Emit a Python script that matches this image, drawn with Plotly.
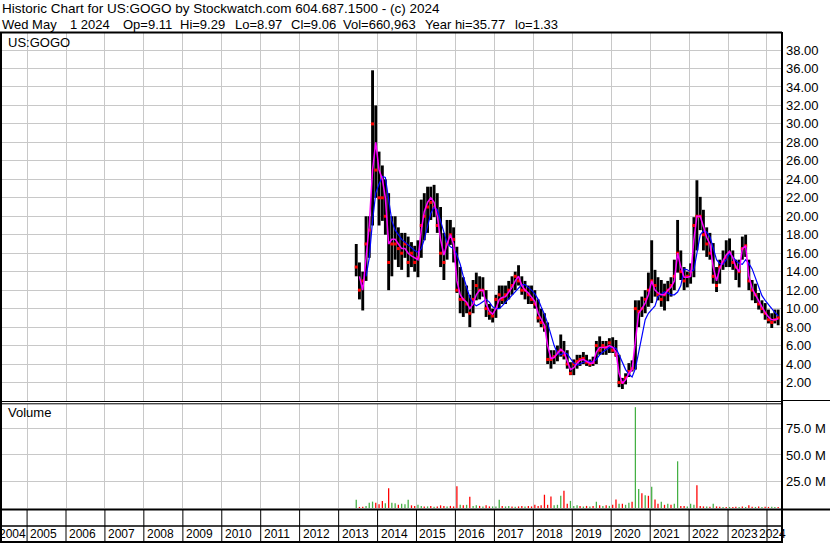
import plotly.graph_objects as go
import pandas as pd

# ---------------- data (monthly, Jun 2013 .. Apr 2024) ----------------
months = pd.date_range("2013-06-01", "2024-04-01", freq="MS") + pd.Timedelta(days=14)

high = [
    17.0, 15.0, 14.0, 20.0, 20.0, 35.8, 32.0,
    27.0, 25.5, 24.0, 22.5, 20.0, 20.0, 18.8, 18.2, 18.2, 17.8, 17.2, 16.8,
    17.4, 21.8, 22.5, 23.2, 23.2, 23.4, 22.5, 21.0, 18.2, 19.6, 19.6, 18.8,
    16.7, 14.5, 13.4, 12.5, 11.5, 13.1, 13.9, 13.5, 13.4, 12.0, 10.5, 10.0,
    11.5, 12.5, 12.5, 12.5, 13.0, 13.5, 14.0, 14.7, 13.5, 13.0, 12.5, 12.5,
    12.0, 11.0, 10.0, 9.5, 8.5, 5.5, 5.5, 6.0, 7.2, 6.5, 5.5, 4.2,
    4.5, 5.0, 5.0, 5.3, 5.0, 4.5, 4.8, 6.5, 7.0, 6.5, 6.5, 6.8,
    6.9, 6.6, 5.0, 2.5, 3.0, 4.1, 4.4, 10.9, 10.9, 11.3, 12.0, 13.9,
    17.4, 14.2, 13.4, 13.1, 12.7, 13.0, 13.4, 15.3, 19.6, 16.3, 14.5, 14.0,
    14.9, 19.9, 23.9, 22.1, 20.7, 18.8, 18.2, 17.1, 14.5, 15.3, 16.3, 17.4,
    17.6, 16.3, 15.3, 15.3, 17.8, 18.0, 15.3, 13.1, 12.7, 11.7, 10.9, 10.6,
    9.9, 9.5, 9.9, 9.9,
]
low = [
    13.5, 11.0, 9.8, 13.0, 15.5, 19.0, 22.0,
    19.0, 19.5, 18.0, 12.0, 13.5, 15.3, 14.5, 14.2, 15.5, 13.4, 14.5, 14.0,
    13.4, 15.5, 17.4, 18.2, 19.6, 19.9, 18.2, 14.5, 13.1, 15.3, 16.9, 15.0,
    11.7, 9.5, 9.1, 9.5, 8.0, 9.5, 10.9, 11.0, 11.3, 9.1, 8.8, 8.5,
    9.0, 10.0, 10.5, 10.5, 11.0, 11.5, 12.0, 12.5, 11.5, 11.0, 10.5, 10.5,
    10.0, 8.5, 8.0, 7.5, 4.0, 3.5, 4.0, 4.3, 4.8, 4.5, 3.5, 2.8,
    2.8, 3.5, 3.8, 4.0, 3.8, 3.7, 3.8, 4.0, 5.0, 5.0, 5.0, 5.2,
    5.2, 4.8, 1.5, 1.3, 1.8, 2.6, 3.2, 3.4, 8.0, 9.1, 9.5, 10.2,
    10.6, 11.3, 10.9, 10.2, 9.8, 10.8, 11.3, 12.0, 13.9, 13.1, 12.0, 12.3,
    12.7, 13.4, 16.3, 18.5, 16.3, 15.6, 15.3, 12.7, 11.8, 12.7, 14.2, 14.5,
    14.5, 14.2, 13.1, 12.3, 15.3, 15.6, 12.0, 10.9, 10.6, 9.9, 9.5, 8.8,
    8.4, 7.9, 8.4, 8.2,
]
close = [
    14.5, 12.0, 13.0, 17.0, 18.5, 30.0, 25.0,
    22.0, 22.0, 20.0, 15.0, 17.0, 17.0, 16.5, 16.0, 17.0, 15.0, 16.0, 15.0,
    15.5, 19.0, 20.0, 21.0, 21.5, 21.0, 19.0, 16.0, 15.0, 17.0, 18.0, 17.5,
    12.0, 11.0, 11.0, 10.5, 9.5, 11.0, 12.5, 12.0, 12.0, 10.0, 9.5, 9.2,
    11.0, 11.5, 11.0, 11.5, 12.0, 12.5, 13.5, 13.0, 12.0, 12.0, 11.5, 11.0,
    10.5, 9.0, 8.5, 8.0, 4.5, 4.5, 4.8, 5.3, 5.5, 5.0, 4.0, 3.0,
    4.0, 4.3, 4.5, 4.6, 4.2, 4.0, 4.2, 6.0, 5.5, 6.0, 5.8, 6.3,
    5.5, 5.0, 2.0, 2.0, 2.5, 3.2, 3.5, 10.0, 9.7, 10.0, 11.0, 12.0,
    13.0, 12.5, 11.5, 11.0, 11.5, 12.0, 12.5, 13.5, 16.0, 14.0, 13.0, 13.5,
    14.0, 19.0, 20.0, 20.0, 18.0, 17.0, 16.0, 13.5, 12.5, 14.5, 15.0, 15.5,
    16.0, 15.0, 14.5, 14.0, 16.5, 16.8, 13.0, 12.0, 11.5, 10.5, 10.0, 9.5,
    8.8, 8.5, 8.8, 9.0,
]
ma_short = [
    None, 13.5, 12.0, 15.5, 19.0, 25.0, 28.0,
    25.0, 24.0, 22.0, 17.0, 17.5, 17.5, 17.0, 16.5, 16.5, 16.0, 15.7, 15.5,
    15.3, 18.5, 20.5, 21.5, 22.0, 21.5, 20.0, 17.5, 15.8, 17.0, 18.0, 17.0,
    13.0, 11.5, 11.0, 10.7, 10.0, 10.5, 11.5, 12.0, 12.0, 10.5, 9.7, 9.4,
    10.0, 11.0, 11.2, 11.3, 11.8, 12.3, 13.0, 13.5, 12.5, 12.0, 11.7, 11.2,
    10.8, 9.5, 8.8, 8.2, 6.0, 4.6, 4.7, 5.1, 5.6, 5.3, 4.4, 3.4,
    3.6, 4.1, 4.4, 4.5, 4.3, 4.1, 4.1, 5.3, 5.8, 5.8, 5.8, 6.0,
    5.8, 5.3, 3.0, 1.9, 2.3, 3.0, 3.4, 6.5, 9.5, 10.0, 10.6, 11.5,
    13.0, 12.0, 11.7, 11.5, 11.5, 12.0, 12.3, 13.0, 16.0, 14.5, 13.4, 13.4,
    13.5, 17.5, 20.0, 20.0, 18.8, 17.7, 17.0, 14.5, 13.0, 14.3, 15.2, 15.8,
    16.2, 15.5, 14.5, 14.0, 16.5, 16.8, 13.5, 12.2, 11.5, 10.8, 10.2, 9.6,
    9.1, 8.8, 8.8, 8.9,
]
ma_long = [
    None, None, None, 13.5, 15.5, 19.5, 22.5,
    23.5, 24.3, 24.2, 21.5, 19.5, 18.5, 18.0, 17.5, 17.2, 16.9, 16.6, 16.3,
    16.1, 16.5, 17.5, 19.0, 20.3, 21.0, 20.7, 19.5, 18.3, 17.1, 16.7, 16.5,
    15.8, 14.8, 13.5, 12.2, 11.2, 10.6, 10.3, 10.5, 10.8, 11.0, 10.7, 10.2,
    10.0, 10.0, 10.3, 10.7, 11.0, 11.4, 11.8, 12.3, 12.6, 12.6, 12.3, 12.0,
    11.6, 11.0, 10.2, 9.4, 8.4, 7.2, 6.0, 5.2, 5.0, 5.2, 5.1, 4.6,
    4.1, 3.9, 4.0, 4.2, 4.3, 4.3, 4.2, 4.5, 5.0, 5.3, 5.6, 5.8,
    5.8, 5.7, 5.0, 4.2, 3.4, 2.9, 2.6, 3.5, 5.5, 7.0, 8.8, 9.5,
    9.9, 10.3, 11.3, 11.6, 11.8, 11.7, 11.5, 11.5, 11.8, 12.5, 14.3, 14.2,
    14.0, 14.2, 16.2, 18.0, 18.4, 18.3, 17.8, 16.5, 15.3, 14.9, 14.8, 15.3,
    16.0, 15.6, 15.2, 14.9, 14.8, 15.3, 14.9, 14.3, 13.3, 12.2, 11.4, 10.9,
    10.5, 10.0, 9.6, 9.2,
]
volume_m = [
    7.7, 1.0, 1.2, 2.0, 5.0, 6.0, 5.0,
    3.5, 6.7, 4.5, 18.6, 5.0, 4.5, 3.0, 4.0, 3.5, 7.7, 2.5, 2.0,
    3.0, 2.0, 1.5, 1.5, 2.0, 1.2, 1.5, 2.5, 2.0, 1.5, 2.0, 1.5,
    20.5, 3.0, 2.5, 3.0, 10.6, 2.0, 2.5, 2.0, 1.5, 2.5, 1.5, 1.5,
    1.5, 7.7, 2.0, 1.5, 2.0, 1.5, 1.2, 1.5, 2.0, 1.5, 2.0, 1.5,
    3.0, 2.0, 2.5, 12.5, 3.0, 10.9, 2.5, 3.0, 11.5, 16.3, 4.0, 6.7,
    2.0, 2.5, 2.0, 1.5, 2.0, 1.5, 2.0, 5.8, 2.5, 2.0, 2.5, 2.0,
    3.0, 8.0, 4.0, 4.0, 3.0, 5.0, 6.0, 95.0, 18.0, 14.0, 12.0, 11.5,
    20.0, 8.0, 4.0, 5.8, 3.0, 4.0, 3.0, 4.0, 44.0, 2.0, 2.0, 1.5,
    4.0, 3.0, 21.5, 2.0, 1.5, 1.5, 1.2, 4.0, 1.5, 1.2, 1.0, 1.0,
    1.0, 1.0, 1.2, 1.0, 1.5, 1.0, 2.7, 1.2, 1.0, 1.5, 1.0, 1.2,
    1.0, 1.2, 1.0, 1.0,
]
volume_dir = [
    "u", "d", "d", "u", "u", "u", "d",
    "d", "d", "u", "d", "u", "u", "d", "u", "u", "u", "d", "d",
    "u", "u", "d", "u", "d", "u", "d", "d", "d", "u", "d", "d",
    "d", "u", "d", "u", "d", "u", "u", "d", "u", "d", "d", "u",
    "u", "u", "d", "u", "u", "d", "u", "d", "d", "u", "d", "d",
    "d", "d", "d", "d", "d", "d", "u", "u", "u", "d", "d", "u",
    "u", "u", "d", "u", "d", "u", "d", "u", "d", "u", "d", "u",
    "d", "d", "u", "d", "u", "u", "d", "u", "u", "d", "u", "d",
    "u", "d", "d", "u", "d", "u", "d", "u", "u", "d", "d", "u",
    "u", "u", "d", "d", "d", "u", "d", "u", "d", "d", "u", "d",
    "u", "d", "d", "u", "d", "u", "d", "d", "u", "d", "u", "d",
    "d", "u", "u", "d",
]
price_ticks = [2, 4, 6, 8, 10, 12, 14, 16, 18, 20, 22, 24, 26, 28, 30, 32, 34, 36, 38]
volume_ticks = [25, 50, 75]
years = list(range(2005, 2025))

header1 = "Historic Chart for US:GOGO by Stockwatch.com 604.687.1500 - (c) 2024"
header2_fields = ["Wed May", "1 2024", "Op=9.11", "Hi=9.29", "Lo=8.97", "Cl=9.06",
                  "Vol=660,963", "Year hi=35.77", "lo=1.33"]

# ---------------- layout helpers ----------------
W, H = 830, 543
AX_RIGHT = 782


def px(x):
    return x / W


def py(y):
    return 1 - y / H


DAY_MS = 86400000
FONT = "Liberation Sans, Arial, sans-serif"
GRID = "#c8c8c8"
X_RANGE = ["2004-04-22", "2024-05-21"]
year_starts = [f"{y}-01-01" for y in years]

fig = go.Figure()

# high-low bars
fig.add_trace(go.Bar(
    x=months, y=[h - l for h, l in zip(high, low)], base=low,
    marker=dict(color="black", line=dict(width=0)), width=27 * DAY_MS,
    xaxis="x", yaxis="y", hoverinfo="skip", showlegend=False))
# close marks
fig.add_trace(go.Scatter(
    x=months, y=close, mode="markers",
    marker=dict(symbol="square", size=3, color="#ff0000", line=dict(width=0)),
    xaxis="x", yaxis="y", hoverinfo="skip", showlegend=False))
# moving averages
fig.add_trace(go.Scatter(
    x=months, y=ma_long, mode="lines", line=dict(color="#0000ff", width=1.2),
    xaxis="x", yaxis="y", hoverinfo="skip", showlegend=False, connectgaps=False))
fig.add_trace(go.Scatter(
    x=months, y=ma_short, mode="lines", line=dict(color="#ff00ff", width=1.5),
    xaxis="x", yaxis="y", hoverinfo="skip", showlegend=False, connectgaps=False))
# volume
vol_colors = ["#44b044" if d == "u" else "#ff0000" for d in volume_dir]
fig.add_trace(go.Bar(
    x=months, y=volume_m, marker=dict(color=vol_colors, line=dict(width=0)),
    width=12 * DAY_MS, xaxis="x2", yaxis="y2", hoverinfo="skip", showlegend=False))

xcommon = dict(
    type="date", range=X_RANGE, domain=[0, px(AX_RIGHT)],
    tickmode="array", tickvals=year_starts, showticklabels=False, ticks="",
    showgrid=True, gridcolor=GRID, gridwidth=1, zeroline=False, showline=False,
    fixedrange=True,
)

fig.update_layout(
    width=W, height=H,
    margin=dict(l=0, r=0, t=0, b=0),
    paper_bgcolor="white", plot_bgcolor="white",
    barmode="overlay",
    font=dict(family=FONT, size=13, color="#000000"),
    showlegend=False,
    xaxis=dict(**xcommon, anchor="y"),
    xaxis2=dict(**xcommon, anchor="y2", matches="x"),
    yaxis=dict(
        domain=[py(401), py(33)], range=[0, 39.84], side="right", anchor="x",
        tickmode="array", tickvals=price_ticks,
        ticktext=[f"{v:.2f}" for v in price_ticks],
        showgrid=True, gridcolor=GRID, gridwidth=1, zeroline=False,
        showline=False, ticks="", ticklabelstandoff=3,
        tickfont=dict(family=FONT, size=13, color="#000000"),
        fixedrange=True,
    ),
    yaxis2=dict(
        domain=[py(508), py(404)], range=[0, 98], side="right", anchor="x2",
        tickmode="array", tickvals=volume_ticks,
        ticktext=[f"{v:.1f} M" for v in volume_ticks],
        showgrid=True, gridcolor=GRID, gridwidth=1, zeroline=False,
        showline=False, ticks="", ticklabelstandoff=3,
        tickfont=dict(family=FONT, size=13, color="#000000"),
        fixedrange=True,
    ),
)

# frame lines
shapes = []


def hline(y, x0, x1, w):
    shapes.append(dict(type="line", xref="paper", yref="paper",
                       x0=px(x0), x1=px(x1), y0=py(y), y1=py(y),
                       line=dict(color="black", width=w)))


def vline(x, y0, y1, w):
    shapes.append(dict(type="line", xref="paper", yref="paper",
                       x0=px(x), x1=px(x), y0=py(y0), y1=py(y1),
                       line=dict(color="black", width=w)))


hline(32.5, 0, AX_RIGHT, 2)
hline(401.5, 0, AX_RIGHT, 1)
hline(403.8, 0, AX_RIGHT, 1)
hline(400.5, AX_RIGHT, W, 1)
hline(509.5, 0, W, 2)
hline(526, 0, AX_RIGHT, 1.5)
hline(542, 0, AX_RIGHT, 2)
vline(1, 32, 543, 2)
vline(AX_RIGHT, 32, 543, 2)

# year separators in the label strip
for ys in year_starts:
    shapes.append(dict(type="line", xref="x", yref="paper",
                       x0=ys, x1=ys, y0=py(542), y1=py(509.5),
                       line=dict(color="black", width=1)))

annotations = []


def label(text, x, y, size=13):
    annotations.append(dict(text=text, xref="paper", yref="paper",
                            x=px(x), y=py(y), xanchor="left", yanchor="middle",
                            showarrow=False, borderpad=0,
                            font=dict(family=FONT, size=size, color="#000000")))


NB = "\u00a0"
label(header1, 1, 9, 13.5)
header2_x = [1, 69, 122, 179, 234, 290, 342, 424, 514]
for text, hx in zip(header2_fields, header2_x):
    label(text.replace(" ", NB), hx, 24, 13)
label("US:GOGO", 7, 42)
label("Volume", 7, 413)

# year labels
annotations.append(dict(text="2004", xref="paper", yref="paper", x=px(-2), y=py(534),
                        xanchor="left", yanchor="middle", showarrow=False, borderpad=0,
                        font=dict(family=FONT, size=12, color="#000000")))
for y, ys in zip(years, year_starts):
    annotations.append(dict(text=str(y), xref="x", yref="paper", x=ys, y=py(534),
                            xanchor="left", yanchor="middle", showarrow=False,
                            borderpad=0, xshift=(-9 if y == 2024 else 2),
                            font=dict(family=FONT, size=12, color="#000000")))

fig.update_layout(shapes=shapes, annotations=annotations)

fig.write_html("out.html", config={"displayModeBar": False, "staticPlot": True},
               post_script="document.body.style.margin='0';document.body.style.padding='0';")
